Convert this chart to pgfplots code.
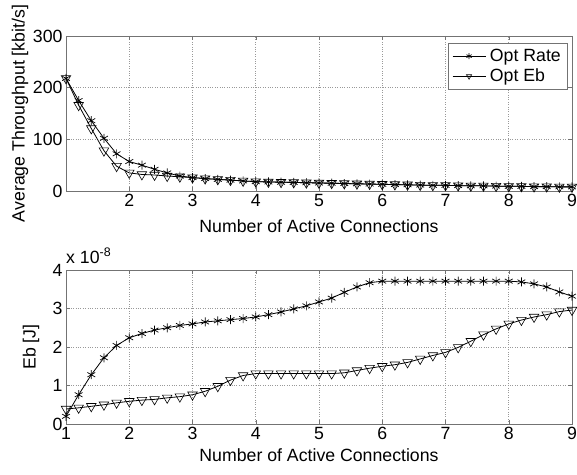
\documentclass[border=0pt]{standalone}
\usepackage{fontspec}
\setmainfont{Liberation Sans}
\usepackage{pgfplots}
\pgfplotsset{compat=1.18}

\newcommand{\bigfont}{\fontsize{17.7}{21}\selectfont}

\pgfplotsset{
  matstyle/.style={
    scale only axis, width=506pt,
    xmin=1, xmax=9,
    grid=major,
    major grid style={dotted, black!40, line width=0.6pt},
    axis line style={black!55}, tick style={black!55, line width=0.5pt},
    major tick length=4pt,
    /pgf/number format/assume math mode=true,
    tick label style={font=\bigfont},
    label style={font=\bigfont},
    xlabel={Number of Active Connections},
    every axis plot/.append style={black, line width=0.8pt},
  },
  rate/.style={mark=asterisk, mark size=4.5pt, mark options={line width=0.7pt}},
  ebst/.style={mark=triangle, mark size=5.5pt, mark options={rotate=180, line width=0.6pt}},
}

\begin{document}
\begin{tikzpicture}
\path[use as bounding box] (0pt,0pt) rectangle (577pt,474pt);

% throughput
\begin{axis}[matstyle,
  at={(66pt,283pt)}, anchor=south west, height=155pt,
  ymin=0, ymax=300, ytick={0,100,200,300},
  xtick={2,...,9},
  ylabel={Average Throughput [kbit/s]},
  ylabel style={at={(rel axis cs:0,0.5)}, anchor=center, yshift=46pt},
  xlabel style={at={(rel axis cs:0.5,0)}, anchor=base, yshift=-41pt},
  legend style={at={(rel axis cs:1,1)}, anchor=north east, xshift=-5pt, yshift=-7pt,
    draw=black!55, fill=white, font=\bigfont, inner xsep=4pt, inner ysep=4pt,
    nodes={inner sep=2pt}, row sep=2pt, column sep=2pt},
  legend cell align=left,
  legend image code/.code={\draw[mark repeat=2,mark phase=2,#1,mark size=3pt] plot coordinates {(0pt,0pt) (16.5pt,0pt) (33pt,0pt)};},
]
\addplot[rate] coordinates {
(1.0,218) (1.2,175) (1.4,136) (1.6,102) (1.8,72) (2.0,57) (2.2,50) (2.4,42) (2.6,35) (2.8,29)
(3.0,26) (3.2,24) (3.4,22.5) (3.6,21) (3.8,19.5) (4.0,18) (4.2,17.5) (4.4,17) (4.6,16.5) (4.8,16)
(5.0,15.5) (5.2,15) (5.4,14.5) (5.6,14) (5.8,13.5) (6.0,13) (6.2,12.5) (6.4,12) (6.6,11.5) (6.8,11)
(7.0,11) (7.2,10.5) (7.4,10) (7.6,10) (7.8,9.5) (8.0,9) (8.2,9) (8.4,8.5) (8.6,8.5) (8.8,8) (9.0,8)
};
\addlegendentry{Opt Rate}
\addplot[ebst] coordinates {
(1.0,218) (1.2,166) (1.4,121) (1.6,78) (1.8,48) (2.0,35) (2.2,32) (2.4,31) (2.6,29) (2.8,27.5)
(3.0,26) (3.2,24) (3.4,22.5) (3.6,21) (3.8,19.5) (4.0,18) (4.2,17.5) (4.4,17) (4.6,16.5) (4.8,16)
(5.0,15.5) (5.2,15) (5.4,14.5) (5.6,14) (5.8,13.5) (6.0,13) (6.2,12.5) (6.4,12) (6.6,11.5) (6.8,11)
(7.0,11) (7.2,10.5) (7.4,10) (7.6,10) (7.8,9.5) (8.0,9) (8.2,9) (8.4,8.5) (8.6,8.5) (8.8,8) (9.0,8)
};
\addlegendentry{Opt Eb}
\end{axis}

% energy per bit
\begin{axis}[matstyle,
  at={(66pt,50pt)}, anchor=south west, height=154pt,
  ymin=0, ymax=4e-8, ytick={0,1e-8,2e-8,3e-8,4e-8},
  xtick={1,...,9},
  scaled y ticks=base 10:8,
  ytick scale label code/.code={x 10\textsuperscript{#1}},
  every y tick scale label/.style={at={(rel axis cs:0,1)}, anchor=base west, yshift=7pt, inner sep=0pt, font=\bigfont},
  ylabel={Eb [J]},
  ylabel style={at={(rel axis cs:0,0.5)}, anchor=center, yshift=35pt},
  xlabel style={at={(rel axis cs:0.5,0)}, anchor=base, yshift=-37pt},
]
\addplot[rate] coordinates {
(1.0,0.20e-8) (1.2,0.76e-8) (1.4,1.28e-8) (1.6,1.72e-8) (1.8,2.04e-8) (2.0,2.24e-8) (2.2,2.35e-8)
(2.4,2.44e-8) (2.6,2.50e-8) (2.8,2.56e-8) (3.0,2.60e-8) (3.2,2.65e-8) (3.4,2.68e-8) (3.6,2.71e-8)
(3.8,2.74e-8) (4.0,2.78e-8) (4.2,2.84e-8) (4.4,2.91e-8) (4.6,2.99e-8) (4.8,3.07e-8) (5.0,3.17e-8)
(5.2,3.27e-8) (5.4,3.42e-8) (5.6,3.56e-8) (5.8,3.67e-8) (6.0,3.71e-8) (6.2,3.71e-8) (6.4,3.71e-8)
(6.6,3.71e-8) (6.8,3.71e-8) (7.0,3.71e-8) (7.2,3.71e-8) (7.4,3.71e-8) (7.6,3.71e-8) (7.8,3.71e-8)
(8.0,3.71e-8) (8.2,3.69e-8) (8.4,3.64e-8) (8.6,3.56e-8) (8.8,3.43e-8) (9.0,3.32e-8)
};
\addplot[ebst] coordinates {
(1.0,0.39e-8) (1.2,0.42e-8) (1.4,0.46e-8) (1.6,0.50e-8) (1.8,0.55e-8) (2.0,0.59e-8) (2.2,0.62e-8)
(2.4,0.64e-8) (2.6,0.68e-8) (2.8,0.71e-8) (3.0,0.76e-8) (3.2,0.85e-8) (3.4,0.98e-8) (3.6,1.14e-8)
(3.8,1.26e-8) (4.0,1.31e-8) (4.2,1.31e-8) (4.4,1.31e-8) (4.6,1.31e-8) (4.8,1.31e-8) (5.0,1.31e-8)
(5.2,1.31e-8) (5.4,1.33e-8) (5.6,1.39e-8) (5.8,1.45e-8) (6.0,1.50e-8) (6.2,1.54e-8) (6.4,1.60e-8)
(6.6,1.69e-8) (6.8,1.78e-8) (7.0,1.86e-8) (7.2,1.99e-8) (7.4,2.15e-8) (7.6,2.32e-8) (7.8,2.47e-8)
(8.0,2.60e-8) (8.2,2.70e-8) (8.4,2.78e-8) (8.6,2.84e-8) (8.8,2.92e-8) (9.0,2.96e-8)
};
\end{axis}
\end{tikzpicture}
\end{document}
